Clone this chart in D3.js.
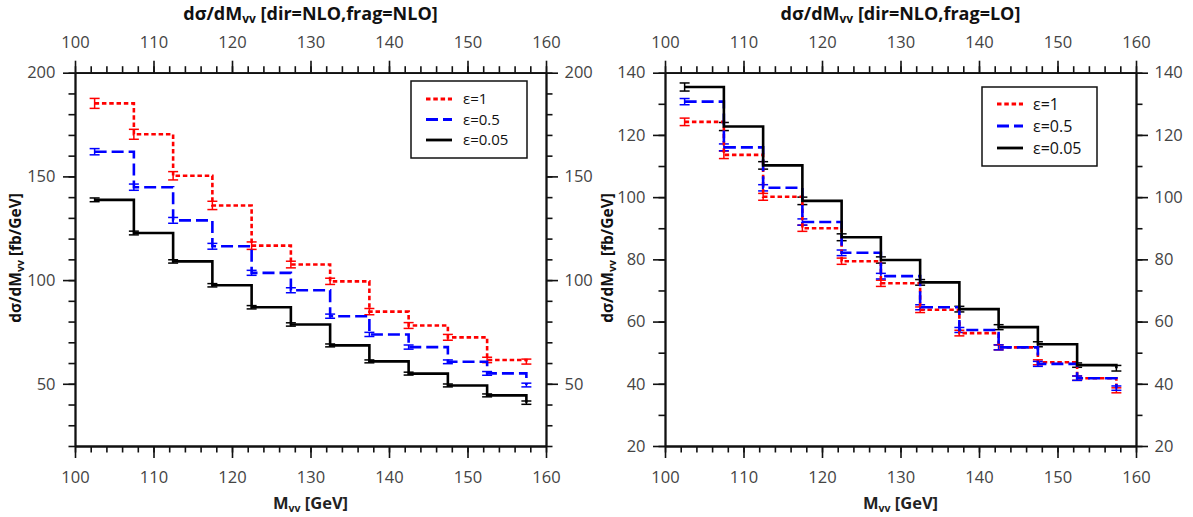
<!DOCTYPE html>
<html>
<head>
<meta charset="utf-8">
<script src="https://cdn.jsdelivr.net/npm/d3@7"></script>
<style>
  html, body { margin: 0; padding: 0; background: #fff; }
  svg { display: block; }
</style>
</head>
<body>
<script>
// ---------- data ----------
const binCenters = [102.5, 107.5, 112.5, 117.5, 122.5, 127.5, 132.5, 137.5, 142.5, 147.5, 152.5, 157.5];
const seriesNames = ["ε=1", "ε=0.5", "ε=0.05"];

// Left panel: dir=NLO, frag=NLO
const leftEps1    = [185.2, 170.3, 150.3, 136.0, 116.6, 107.5, 99.4, 84.8, 78.1, 72.4, 61.5, 60.7];
const leftEps1Err = [2.4, 2.4, 2.0, 2.0, 1.8, 1.6, 1.5, 1.5, 1.4, 1.4, 1.3, 1.2];
const leftEps05    = [161.9, 144.8, 128.8, 116.3, 103.5, 95.1, 82.6, 73.8, 67.7, 60.6, 55.0, 49.4];
const leftEps05Err = [1.5, 1.5, 1.4, 1.4, 1.2, 1.2, 1.0, 1.0, 1.0, 0.9, 0.9, 0.9];
const leftEps005    = [138.7, 122.7, 109.0, 97.5, 86.9, 78.6, 68.5, 60.8, 54.9, 49.2, 44.4, 40.9];
const leftEps005Err = [0.9, 0.9, 0.8, 0.8, 0.8, 0.8, 0.7, 0.7, 0.7, 0.7, 0.7, 0.8];

// Right panel: dir=NLO, frag=LO
const rightEps1    = [124.2, 113.6, 100.1, 90.0, 79.4, 72.3, 63.8, 56.3, 51.7, 46.9, 41.8, 37.9];
const rightEps1Err = [1.2, 1.2, 1.1, 1.0, 1.0, 1.0, 0.9, 0.9, 0.8, 0.8, 0.7, 0.8];
const rightEps05    = [130.7, 116.0, 103.0, 92.0, 82.1, 74.6, 64.6, 57.3, 51.7, 46.4, 41.8, 38.6];
const rightEps05Err = [1.0, 1.1, 1.0, 1.0, 0.9, 0.9, 0.8, 0.8, 0.8, 0.8, 0.7, 0.7];
const rightEps005    = [135.4, 122.7, 110.2, 98.8, 87.1, 79.8, 72.6, 64.0, 58.2, 52.7, 46.0, 45.0];
const rightEps005Err = [1.3, 1.3, 1.2, 1.2, 1.1, 1.0, 0.9, 0.9, 0.8, 0.8, 0.7, 0.9];

const xMajorTicks = [100, 110, 120, 130, 140, 150, 160];
const xMinorTicks = d3.range(100, 160.01, 2);
const leftYMajorTicks = [50, 100, 150, 200];
const leftYMinorTicks = d3.range(20, 200.01, 10);
const rightYMajorTicks = [20, 40, 60, 80, 100, 120, 140];
const rightYMinorTicks = d3.range(20, 140.01, 10);

// ---------- drawing ----------
const W = 1193, H = 517;
const svg = d3.select("body").append("svg").attr("width", W).attr("height", H);

const styles = [
  { color: "#ff0000", dash: "4.5,2.8", width: 2.6 },
  { color: "#0000ff", dash: "12,5", width: 2.6 },
  { color: "#000000", dash: null, width: 2.6 }
];

const tickFont = "'Open Sans', 'Noto Sans', sans-serif";

function panel(cfg) {
  const x = d3.scaleLinear().domain([100, 160]).range([cfg.x0, cfg.x1]);
  const y = d3.scaleLinear().domain(cfg.yDomain).range([446, 72.7]);
  const g = svg.append("g");

  const mk = (axisFn, scale, ticks, size, labels, pad, transform) => {
    const a = axisFn(scale).tickValues(ticks).tickSizeOuter(0).tickSizeInner(size).tickPadding(pad);
    if (!labels) a.tickFormat("");
    const ag = g.append("g").attr("transform", transform).call(a);
    ag.select(".domain").attr("stroke", "#111").attr("stroke-width", 1.8);
    ag.selectAll(".tick line").attr("stroke", "#111").attr("stroke-width", 1.6);
    ag.selectAll(".tick text").attr("fill", "#444").attr("font-size", 16.5).attr("font-family", tickFont);
    return ag;
  };
  mk(d3.axisTop, x, xMinorTicks, 6.5, false, 0, `translate(0,${y.range()[1]})`);
  mk(d3.axisTop, x, xMajorTicks, 12, true, 12.5, `translate(0,${y.range()[1]})`);
  mk(d3.axisBottom, x, xMinorTicks, 6.5, false, 0, `translate(0,${y.range()[0]})`);
  mk(d3.axisBottom, x, xMajorTicks, 12, true, 13.5, `translate(0,${y.range()[0]})`);
  mk(d3.axisLeft, y, cfg.yMinor, 6.5, false, 0, `translate(${cfg.x0},0)`);
  mk(d3.axisLeft, y, cfg.yMajor, 12, true, 7.5, `translate(${cfg.x0},0)`);
  mk(d3.axisRight, y, cfg.yMinor, 6.5, false, 0, `translate(${cfg.x1},0)`);
  mk(d3.axisRight, y, cfg.yMajor, 12, true, 6.5, `translate(${cfg.x1},0)`);

  // step lines + error bars
  const line = d3.line().curve(d3.curveStepAfter).x(d => x(d.x)).y(d => y(d.v));
  cfg.series.forEach((s, i) => {
    const st = styles[i];
    const pts = binCenters.map((c, k) => ({ x: c, v: s.v[k], e: s.e[k] }));
    const eg = g.append("g");
    pts.forEach(p => {
      eg.append("line").attr("x1", x(p.x)).attr("x2", x(p.x))
        .attr("y1", y(p.v - p.e)).attr("y2", y(p.v + p.e))
        .attr("stroke", st.color).attr("stroke-width", 1.5);
      [p.v - p.e, p.v + p.e].forEach(vv => {
        eg.append("line").attr("x1", x(p.x) - 5).attr("x2", x(p.x) + 5)
          .attr("y1", y(vv)).attr("y2", y(vv))
          .attr("stroke", st.color).attr("stroke-width", 1.5);
      });
    });
  });
  cfg.series.forEach((s, i) => {
    const st = styles[i];
    const pts = binCenters.map((c, k) => ({ x: c, v: s.v[k] }));
    g.append("path").datum(pts).attr("d", line)
      .attr("fill", "none").attr("stroke", st.color).attr("stroke-width", st.width)
      .attr("stroke-dasharray", st.dash);
  });

  // legend
  const L = cfg.legend;
  g.append("rect").attr("x", L.x).attr("y", L.y).attr("width", L.w).attr("height", L.h)
    .attr("fill", "#fff").attr("stroke", "#111").attr("stroke-width", 1.5);
  seriesNames.forEach((name, i) => {
    const st = styles[i];
    const ry = L.y + L.row0 + i * L.dy;
    g.append("line").attr("x1", L.x + L.lx0).attr("x2", L.x + L.lx0 + 26)
      .attr("y1", ry).attr("y2", ry)
      .attr("stroke", st.color).attr("stroke-width", 2.8).attr("stroke-dasharray", st.dash);
    g.append("text").attr("x", L.x + L.tx).attr("y", ry).attr("dy", "0.35em")
      .attr("font-family", tickFont).attr("font-size", L.fs).attr("fill", "#111").text(name);
  });

  // title
  const cx = (cfg.x0 + cfg.x1) / 2;
  const t = g.append("text").attr("x", cx).attr("y", 20).attr("text-anchor", "middle")
    .attr("font-family", tickFont).attr("font-weight", "bold").attr("font-size", 18).attr("fill", "#111");
  t.append("tspan").text("dσ/dM");
  t.append("tspan").attr("font-size", 12).attr("dy", 3).text("vv");
  t.append("tspan").attr("dy", -3).text(" " + cfg.title);

  // x label
  const xl = g.append("text").attr("x", cx).attr("y", 509).attr("text-anchor", "middle")
    .attr("font-family", tickFont).attr("font-weight", "bold").attr("font-size", 16.5).attr("fill", "#222");
  xl.append("tspan").text("M");
  xl.append("tspan").attr("font-size", 10.5).attr("dy", 3).text("vv");
  xl.append("tspan").attr("dy", -3).text(" [GeV]");

  // y label
  const yl = g.append("text").attr("transform", `translate(${cfg.ylx},258) rotate(-90)`)
    .attr("text-anchor", "middle").attr("font-family", tickFont).attr("font-weight", "bold")
    .attr("font-size", 15.5).attr("fill", "#111");
  yl.append("tspan").text("dσ/dM");
  yl.append("tspan").attr("font-size", 10.5).attr("dy", 3).text("vv");
  yl.append("tspan").attr("dy", -3).text(" [fb/GeV]");
}

panel({
  x0: 75, x1: 546, yDomain: [20, 200], yMajor: leftYMajorTicks, yMinor: leftYMinorTicks,
  title: "[dir=NLO,frag=NLO]", ylx: 21,
  legend: { x: 411, y: 81, w: 116, h: 77, row0: 18, dy: 20.5, lx0: 15, tx: 52, fs: 15 },
  series: [
    { v: leftEps1, e: leftEps1Err },
    { v: leftEps05, e: leftEps05Err },
    { v: leftEps005, e: leftEps005Err }
  ]
});

panel({
  x0: 665, x1: 1136, yDomain: [20, 140], yMajor: rightYMajorTicks, yMinor: rightYMinorTicks,
  title: "[dir=NLO,frag=LO]", ylx: 613,
  legend: { x: 982, y: 87, w: 115, h: 79, row0: 17, dy: 22, lx0: 15, tx: 51, fs: 16 },
  series: [
    { v: rightEps1, e: rightEps1Err },
    { v: rightEps05, e: rightEps05Err },
    { v: rightEps005, e: rightEps005Err }
  ]
});
</script>
</body>
</html>
